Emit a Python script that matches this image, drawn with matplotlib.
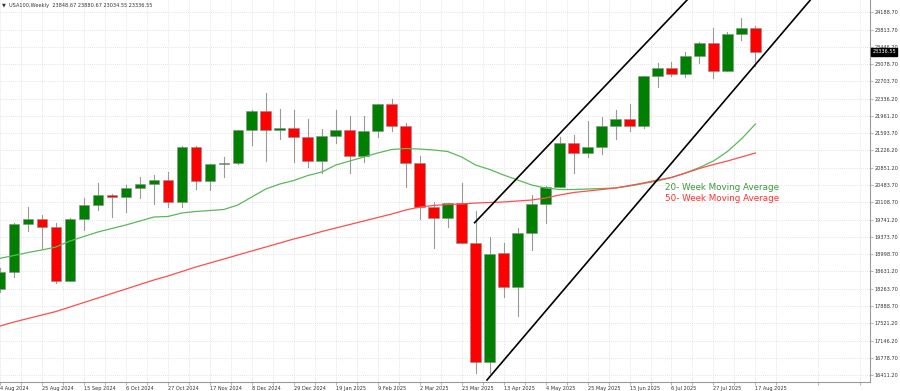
import numpy as np
import matplotlib
matplotlib.use("Agg")
import matplotlib.pyplot as plt
from matplotlib.patches import Rectangle
import matplotlib.transforms as mtrans

# weekly candles, 4 Aug 2024 .. 17 Aug 2025
opens = [18254, 18612, 19641, 19754, 19576, 18432, 19760, 20054, 20275, 20226,
         20419, 20504, 20590, 20125, 21304, 20562, 20927, 20961, 21655, 22075,
         21655, 21698, 21518, 20997, 21533, 21655, 21104, 21640, 22212, 21754,
         20961, 20018, 19782, 20104, 19246, 16696, 19019, 18303, 19448, 20076,
         20434, 21377, 21162, 21304, 21754, 21897, 21754, 22819, 22984, 22862,
         23254, 23532, 22926, 23712, 23848.67]
highs = [18704, 19669, 20018, 19846, 19675, 19770, 20198, 20519, 20290, 20489,
         20661, 20704, 20768, 21310, 21310, 20930, 21077, 21660, 22080, 22448,
         22105, 22090, 21891, 21677, 22090, 21962, 21962, 22215, 22319, 21805,
         21104, 20125, 20095, 20519, 19932, 19362, 19246, 19555, 20269, 20461,
         21518, 21554, 21861, 21934, 22090, 22219, 22820, 23104, 23112, 23327,
         23554, 23854, 23755, 24068, 23880.67]
lows = [18190, 18505, 19503, 19126, 18376, 18420, 19518, 19947, 19804, 19898,
        20198, 20076, 20005, 20005, 20404, 20376, 20661, 20933, 21347, 21004,
        21475, 20982, 20862, 20734, 21377, 20746, 20982, 21505, 21646, 20446,
        19748, 19126, 19589, 19240, 16448, 16460, 18089, 17676, 19090, 19675,
        20430, 20733, 21077, 21147, 21469, 21646, 21698, 22577, 22819, 22804,
        23104, 22782, 22920, 23590, 23034.55]
closes = [18618, 19641, 19754, 19576, 18432, 19761, 20054, 20262, 20226, 20419,
          20504, 20590, 20125, 21304, 20562, 20927, 20961, 21655, 22075, 21655,
          21698, 21518, 20997, 21533, 21655, 21104, 21640, 22212, 21754, 20961,
          20018, 19782, 20091, 19246, 16696, 18998, 18303, 19448, 20076, 20434,
          21377, 21175, 21304, 21754, 21897, 21754, 22819, 22984, 22862, 23254,
          23532, 22926, 23712, 23841, 23336.55]

ma20 = [18912, 18972, 19036, 19090, 19154, 19283, 19379, 19476, 19551, 19626,
        19711, 19797, 19808, 19883, 19915, 19936, 19958, 20054, 20226, 20397,
        20504, 20579, 20686, 20761, 20911, 20997, 21083, 21169, 21244, 21265,
        21254, 21233, 21201, 21083, 20911, 20815, 20697, 20590, 20483, 20419,
        20386, 20386, 20397, 20408, 20419, 20461, 20515, 20569, 20644, 20740,
        20858, 20997, 21201, 21469, 21790]
ma50 = [17461, 17547, 17622, 17697, 17772, 17868, 17965, 18061, 18158, 18254,
        18351, 18447, 18533, 18629, 18726, 18811, 18897, 18983, 19069, 19154,
        19240, 19326, 19401, 19486, 19561, 19636, 19711, 19786, 19861, 19947,
        20011, 20044, 20065, 20076, 20097, 20108, 20119, 20140, 20161, 20204,
        20269, 20322, 20354, 20386, 20419, 20472, 20526, 20590, 20644, 20740,
        20837, 20922, 20997, 21083, 21169]

# channel lines (week index, price)
upper_x = [33.93, 49.6]
upper_y = [19675, 24600]
lower_x = [34.81, 58.5]
lower_y = [16304, 24650]

date_labels = ["4 Aug 2024", "25 Aug 2024", "15 Sep 2024", "6 Oct 2024",
               "27 Oct 2024", "17 Nov 2024", "8 Dec 2024", "29 Dec 2024",
               "19 Jan 2025", "9 Feb 2025", "2 Mar 2025", "23 Mar 2025",
               "13 Apr 2025", "4 May 2025", "25 May 2025", "15 Jun 2025",
               "6 Jul 2025", "27 Jul 2025", "17 Aug 2025"]
price_ticks = [24188.70, 23813.70, 23446.20, 23078.70, 22703.70, 22336.20,
               21961.20, 21593.70, 21226.20, 20851.20, 20483.70, 20108.70,
               19741.20, 19373.70, 18998.70, 18631.20, 18263.70, 17888.70,
               17521.20, 17146.20, 16778.70, 16411.20]

fig = plt.figure(figsize=(9, 3.91), dpi=100)
ax = fig.add_axes([0, 9 / 391, 870 / 900, 382 / 391])
ax.set_xlim(0.05, 62.19)
ax.set_ylim(16261.2, 24447.45)

n = len(opens)
xs = np.arange(n)
w = 0.76
for i in range(n):
    o, h, l, c = opens[i], highs[i], lows[i], closes[i]
    col = "#008000" if c >= o else "#ff0000"
    ax.plot([i, i], [l, h], color="#9a9a9a", lw=0.8, zorder=2)
    ax.add_patch(Rectangle((i - w / 2, min(o, c)), w, max(abs(c - o), 8),
                           facecolor=col, edgecolor="#8a8a8a", lw=0.4, zorder=3))

ax.plot(xs, ma20, color="#5cb85c", lw=0.9, zorder=4)
ax.plot(xs, ma50, color="#ff4d4d", lw=0.9, zorder=4)
ax.plot(upper_x, upper_y, color="black", lw=1.2, zorder=5)
ax.plot(lower_x, lower_y, color="black", lw=1.2, zorder=5)

ax.text(665 / 870, 1 - 187 / 382, "20- Week Moving Average", transform=ax.transAxes,
        color="#3c9a3c", fontsize=6.3, va="center", ha="left")
ax.text(665 / 870, 1 - 198.5 / 382, "50- Week Moving Average", transform=ax.transAxes,
        color="#ff3030", fontsize=6.3, va="center", ha="left")

# axes styling
for s in ["left", "top"]:
    ax.spines[s].set_visible(False)
for s in ["right", "bottom"]:
    ax.spines[s].set_color("#9a9a9a")
    ax.spines[s].set_linewidth(0.8)

ax.yaxis.tick_right()
ax.set_yticks(price_ticks)
ax.set_yticklabels(["%.2f" % v for v in price_ticks])
ax.tick_params(axis="y", labelsize=3.6, colors="#9a9a9a", labelcolor="#333333",
               length=2, width=0.5, pad=1.5)

ax.set_xticks(np.arange(0, n, 3))
ax.set_xticklabels(date_labels, ha="left")
ax.set_xticks(np.arange(1.5, n + 8, 3), minor=True)
ax.tick_params(axis="x", which="both", labelsize=3.6, colors="#9a9a9a",
               labelcolor="#333333", length=2, width=0.5, pad=1)

ax.grid(True, which="both", axis="x", color="#dcdcdc", lw=0.6, ls=(0, (1, 1.5)))
ax.grid(True, which="major", axis="y", color="#dcdcdc", lw=0.6, ls=(0, (1, 1.5)))
ax.set_axisbelow(True)

# current price box
tr = mtrans.blended_transform_factory(ax.transAxes, ax.transData)
ax.text(1.003, closes[-1], "%.2f" % closes[-1], transform=tr, fontsize=3.6,
        color="white", va="center", ha="left",
        bbox=dict(boxstyle="square,pad=0.25", fc="black", ec="black"))

fig.text(2 / 900, 1 - 6 / 391, "\u25bc  USA100,Weekly  23848.67 23880.67 23034.55 23336.55",
         fontsize=3.6, color="#333333", va="center", ha="left")

fig.savefig("out.png", dpi=100)
